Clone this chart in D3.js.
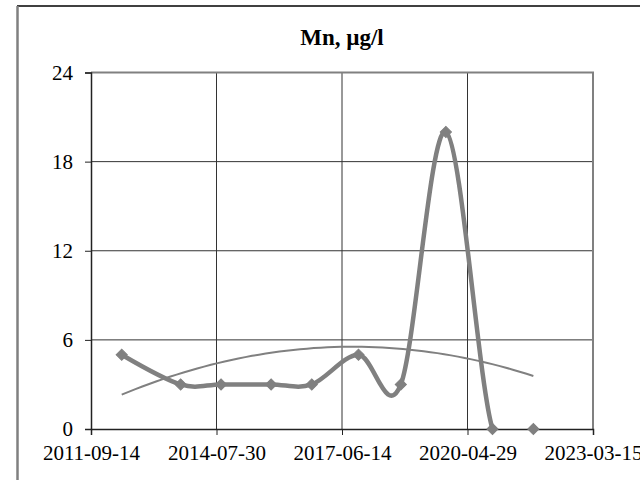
<!DOCTYPE html>
<html>
<head>
  <title>Mn, µg/l</title>
  <script src="https://d3js.org/d3.v7.min.js"></script>
  <style>
    body { margin: 0; background: #fff; }
    text { font-family: "Liberation Serif", "Times New Roman", serif; fill: #000; }
  </style>
</head>
<body>
  <svg id="chart" width="640" height="480"></svg>

  <script>
    // Data
    var dates = ["2012-05-28", "2013-10-03", "2014-09-06", "2015-10-30", "2016-10-04",
                 "2017-10-30", "2018-10-19", "2019-10-31", "2020-11-24", "2021-11-01"];
    var values = [5, 3, 3, 3, 3, 5, 3, 20, 0, 0];
    var yTicks = [0, 6, 12, 18, 24];
    var xTickLabels = ["2011-09-14", "2014-07-30", "2017-06-14", "2020-04-29", "2023-03-15"];

    var parse = d3.utcParse("%Y-%m-%d");
    var fmt = d3.utcFormat("%Y-%m-%d");
    var points = dates.map(function(d, i) { return { date: parse(d), value: values[i] }; });
    var xTicks = xTickLabels.map(parse);

    // Plot area
    var plotLeft = 91, plotRight = 593, plotTop = 72.5, plotBottom = 429;

    var svg = d3.select("#chart");

    // clip for the series line (drawn inside the plot area only)
    svg.append("defs").append("clipPath").attr("id", "plotClip")
      .append("rect")
      .attr("x", plotLeft).attr("y", plotTop)
      .attr("width", plotRight - plotLeft).attr("height", plotBottom - plotTop);

    // Chart area border (only top and left edges visible)
    svg.append("line").attr("x1", 17).attr("x2", 640).attr("y1", 6).attr("y2", 6)
      .attr("stroke", "#000").attr("stroke-width", 1.5);
    svg.append("line").attr("x1", 17.5).attr("x2", 17.5).attr("y1", 6).attr("y2", 480)
      .attr("stroke", "#808080").attr("stroke-width", 2.5);

    var x = d3.scaleUtc()
      .domain([xTicks[0], xTicks[xTicks.length - 1]])
      .range([plotLeft, plotRight]);

    var y = d3.scaleLinear()
      .domain([0, 24])
      .range([plotBottom, plotTop]);

    // Gridlines
    svg.append("g").selectAll("line.h")
      .data(yTicks.slice(1, -1))
      .enter().append("line")
      .attr("x1", plotLeft).attr("x2", plotRight)
      .attr("y1", function(d) { return y(d); }).attr("y2", function(d) { return y(d); })
      .attr("stroke", "#333").attr("stroke-width", 1);

    svg.append("g").selectAll("line.v")
      .data(xTicks.slice(1, -1))
      .enter().append("line")
      .attr("x1", function(d) { return x(d); }).attr("x2", function(d) { return x(d); })
      .attr("y1", plotTop).attr("y2", plotBottom)
      .attr("stroke", "#333").attr("stroke-width", 1);

    // Plot area border (top and right)
    svg.append("path")
      .attr("d", "M" + plotLeft + "," + plotTop + "H" + plotRight + "V" + plotBottom)
      .attr("fill", "none").attr("stroke", "#808080").attr("stroke-width", 2);

    // Polynomial (order 2) trendline fitted to the series
    var t0 = points[0].date.getTime();
    var day = 86400000;
    var S = [0, 0, 0, 0, 0], T = [0, 0, 0];
    points.forEach(function(p) {
      var t = (p.date.getTime() - t0) / day / 1000;
      for (var k = 0; k < 5; k++) S[k] += Math.pow(t, k);
      for (var k = 0; k < 3; k++) T[k] += p.value * Math.pow(t, k);
    });
    // solve 3x3 normal equations (Cramer's rule)
    function det3(m) {
      return m[0][0] * (m[1][1] * m[2][2] - m[1][2] * m[2][1])
           - m[0][1] * (m[1][0] * m[2][2] - m[1][2] * m[2][0])
           + m[0][2] * (m[1][0] * m[2][1] - m[1][1] * m[2][0]);
    }
    var M = [[S[0], S[1], S[2]], [S[1], S[2], S[3]], [S[2], S[3], S[4]]];
    var D = det3(M);
    var coef = [0, 1, 2].map(function(c) {
      var Mc = M.map(function(row, r) { return row.map(function(v, j) { return j === c ? T[r] : v; }); });
      return det3(Mc) / D;
    });
    var tEnd = (points[points.length - 1].date.getTime() - t0) / day / 1000;
    var trend = d3.range(0, 61).map(function(i) {
      var t = tEnd * i / 60;
      return { date: new Date(t0 + t * 1000 * day), value: coef[0] + coef[1] * t + coef[2] * t * t };
    });

    svg.append("path")
      .datum(trend)
      .attr("fill", "none")
      .attr("stroke", "#808080")
      .attr("stroke-width", 2)
      .attr("d", d3.line()
        .x(function(d) { return x(d.date); })
        .y(function(d) { return y(d.value); }));

    // Smoothed series line
    svg.append("path")
      .datum(points)
      .attr("clip-path", "url(#plotClip)")
      .attr("fill", "none")
      .attr("stroke", "#808080")
      .attr("stroke-width", 4.5)
      .attr("stroke-linejoin", "round")
      .attr("d", d3.line()
        .curve(d3.curveCatmullRom.alpha(0))
        .x(function(d) { return x(d.date); })
        .y(function(d) { return y(d.value); }));

    // Axes
    var xAxis = d3.axisBottom(x).tickValues(xTicks).tickFormat(fmt).tickSizeOuter(0).tickSize(6);
    var gx = svg.append("g")
      .attr("transform", "translate(0," + plotBottom + ")")
      .call(xAxis);
    gx.select(".domain").attr("stroke", "#222").attr("stroke-width", 1.5);
    gx.selectAll(".tick line").attr("stroke", "#222");
    gx.selectAll(".tick text")
      .attr("font-family", "Liberation Serif")
      .attr("font-size", 21).attr("fill", "#000")
      .attr("dy", null).attr("y", 31);

    var yAxis = d3.axisLeft(y).tickValues(yTicks).tickSizeOuter(0).tickSize(6);
    var gy = svg.append("g")
      .attr("transform", "translate(" + plotLeft + ",0)")
      .call(yAxis);
    gy.select(".domain").attr("stroke", "#222").attr("stroke-width", 1.5);
    gy.selectAll(".tick line").attr("stroke", "#222");
    gy.selectAll(".tick text")
      .attr("font-family", "Liberation Serif")
      .attr("font-size", 21).attr("fill", "#000")
      .attr("x", -18).attr("dy", "0.33em");

    // Diamond markers
    svg.append("g").selectAll("path.marker")
      .data(points)
      .enter().append("path")
      .attr("class", "marker")
      .attr("d", d3.symbol().type(d3.symbolSquare).size(62))
      .attr("transform", function(d) { return "translate(" + x(d.date) + "," + y(d.value) + ") rotate(45)"; })
      .attr("fill", "#808080")
      .attr("stroke", "#808080")
      .attr("stroke-width", 1);

    // Title
    svg.append("text")
      .attr("x", (plotLeft + plotRight) / 2)
      .attr("y", 45)
      .attr("text-anchor", "middle")
      .attr("font-size", 23)
      .attr("font-weight", "bold")
      .text("Mn, µg/l");
  </script>
</body>
</html>
